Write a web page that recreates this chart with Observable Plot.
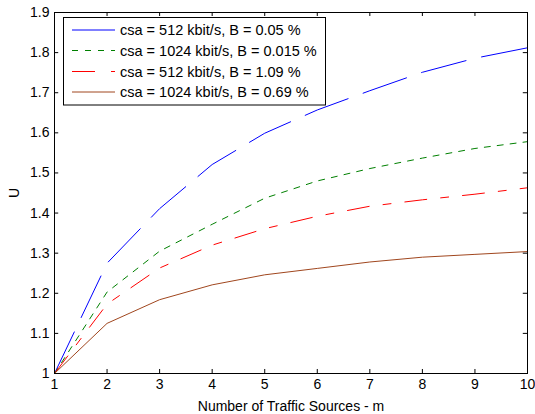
<!DOCTYPE html>
<html>
<head>
<meta charset="utf-8">
<script src="https://cdn.jsdelivr.net/npm/d3@7"></script>
<script src="https://cdn.jsdelivr.net/npm/@observablehq/plot@0.6"></script>
<style>
  body { margin: 0; background: #fff; }
  #wrap { position: relative; width: 535px; height: 414px; }
  #wrap svg { font-family: "Liberation Sans", Arial, sans-serif; }
</style>
</head>
<body>
<div id="wrap"></div>
<script>
const m = [1, 2, 3, 4, 5, 6, 7, 8, 9, 10];
const seriesNames = [
  "csa = 512 kbit/s, B = 0.05 %",
  "csa = 1024 kbit/s, B = 0.015 %",
  "csa = 512 kbit/s, B = 1.09 %",
  "csa = 1024 kbit/s, B = 0.69 %"
];
const u512_005 = [1, 1.275, 1.411, 1.521, 1.599, 1.657, 1.705, 1.751, 1.786, 1.812];
const u1024_0015 = [1, 1.203, 1.305, 1.372, 1.437, 1.48, 1.511, 1.537, 1.561, 1.578];
const u512_109 = [1, 1.173, 1.263, 1.32, 1.361, 1.392, 1.417, 1.433, 1.447, 1.463];
const u1024_069 = [1, 1.125, 1.184, 1.221, 1.246, 1.262, 1.278, 1.29, 1.297, 1.304];
const xTicks = [1, 2, 3, 4, 5, 6, 7, 8, 9, 10];
const yTicks = [1, 1.1, 1.2, 1.3, 1.4, 1.5, 1.6, 1.7, 1.8, 1.9];

const colors = ["#0000ff", "#008000", "#ff0000", "#a0461e"];
const dashes = ["46,16", "6,7", "22,14,8,14", null];
const legendDashes = [null, "6,7", "23,16,8,14", null];
const allSeries = [u512_005, u1024_0015, u512_109, u1024_069];

const W = 535, H = 414;
const mL = 54, mR = 8, mT = 12, mB = 41;

const lineMarks = allSeries.map((vals, i) =>
  Plot.line(m.map((x, j) => ({x, y: vals[j]})), {
    x: "x", y: "y", stroke: colors[i], strokeWidth: 1,
    strokeDasharray: dashes[i] || undefined
  })
);

const chart = Plot.plot({
  width: W, height: H,
  marginLeft: mL, marginRight: mR, marginTop: mT, marginBottom: mB,
  style: {fontSize: "14px", fontFamily: "'Liberation Sans', Arial, sans-serif", background: "#fff", color: "#000"},
  x: {domain: [1, 10]},
  y: {domain: [1, 1.9]},
  marks: [
    ...lineMarks,
    Plot.ruleX(xTicks, {y1: 1, y2: 1.01, stroke: "#000"}),
    Plot.ruleX(xTicks, {y1: 1.89, y2: 1.9, stroke: "#000"}),
    Plot.ruleY(yTicks, {x1: 1, x2: 1.08, stroke: "#000"}),
    Plot.ruleY(yTicks, {x1: 9.92, x2: 10, stroke: "#000"}),
    Plot.frame({stroke: "#000"}),
    Plot.axisX(xTicks, {tickSize: 0, tickPadding: 6, tickFormat: d => String(d),
      label: "Number of Traffic Sources - m", labelAnchor: "center", labelArrow: "none", labelOffset: 37}),
    Plot.axisY(yTicks, {tickSize: 0, tickPadding: 5, tickFormat: d => String(+d.toFixed(1)),
      label: "U", labelAnchor: "center", labelArrow: "none", labelOffset: 45})
  ]
});
document.getElementById("wrap").appendChild(chart);

// Legend box (overlay)
const lg = d3.select("#wrap").append("svg")
  .attr("width", W).attr("height", H)
  .style("position", "absolute").style("left", "0px").style("top", "0px")
  .style("pointer-events", "none");
lg.append("rect").attr("x", 63.5).attr("y", 17.5).attr("width", 262).attr("height", 87.5)
  .attr("fill", "#fff").attr("stroke", "#000").attr("stroke-width", 1);
const rowY = [30, 50.5, 71.5, 92];
seriesNames.forEach((name, i) => {
  const ln = lg.append("line").attr("x1", 72).attr("x2", 115).attr("y1", rowY[i]).attr("y2", rowY[i])
    .attr("stroke", colors[i]).attr("stroke-width", 1);
  if (legendDashes[i]) ln.attr("stroke-dasharray", legendDashes[i]);
  lg.append("text").attr("x", 120).attr("y", rowY[i]).attr("dy", "0.36em")
    .attr("font-size", 14.5).attr("font-family", "'Liberation Sans', Arial, sans-serif")
    .attr("fill", "#000").text(name);
});
</script>
</body>
</html>
